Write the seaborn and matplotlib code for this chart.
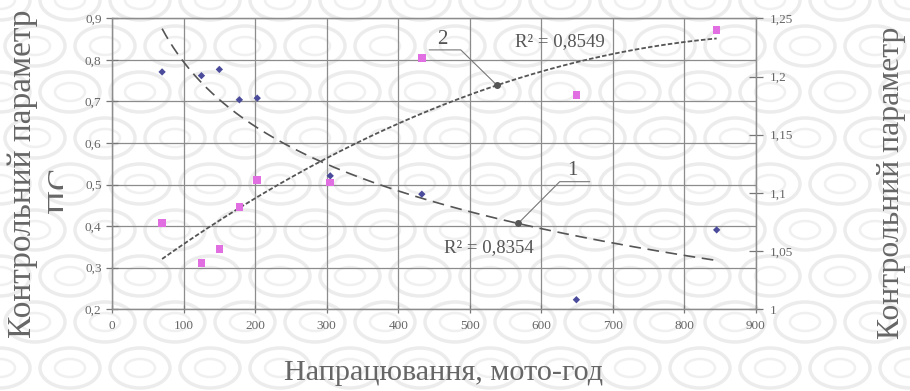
import numpy as np
import pandas as pd
import matplotlib
matplotlib.use("Agg")
import matplotlib.pyplot as plt
from matplotlib.patches import Ellipse
from matplotlib.transforms import Bbox, TransformedBbox
from matplotlib.ticker import FuncFormatter, MultipleLocator
import seaborn as sns

# Operating hours and the two control parameters
hours = [70, 125, 150, 178, 203, 305, 433, 649, 845]
param_1 = [0.771, 0.762, 0.777, 0.704, 0.708, 0.521, 0.477, 0.223, 0.391]
param_2 = [1.074, 1.040, 1.052, 1.088, 1.111, 1.109, 1.216, 1.184, 1.240]
r2_labels = ["R² = 0,8354", "R² = 0,8549"]
curve_labels = ["1", "2"]
x_label = "Напрацювання, мото-год"
y_label = "Контрольний параметр"
y_label_extra = "ПС"

sns.set_theme(style="white")
plt.rcParams["font.family"] = ["Liberation Serif", "DejaVu Serif"]

TEXT = "#666666"
LINE = "#555555"

fig = plt.figure(figsize=(9.1, 3.91), dpi=100)
fig.patch.set_facecolor("white")

# decorative lattice backdrop
bg = fig.add_axes([0, 0, 1, 1], zorder=-10)
bg.set_xlim(0, 910)
bg.set_ylim(391, 0)
bg.axis("off")
for row in range(-1, 11):
    for col in range(-1, 15):
        cx = col * 70 + (35 if row % 2 else 0)
        cy = row * 46
        bg.add_patch(Ellipse((cx, cy), 60, 40, fill=False, ec="#ececec", lw=2.5))
        bg.add_patch(Ellipse((cx, cy), 30, 18, fill=False, ec="#f0f0f0", lw=1.8))

df = pd.DataFrame({"hours": hours, "p1": param_1, "p2": param_2})

ax = fig.add_axes([112 / 910, 1 - 309.3 / 391, 644 / 910, 291 / 391])
ax.set_facecolor("none")
ax2 = ax.twinx()
ax2.set_facecolor("none")

# trend lines: logarithmic for parameter 1, quadratic for parameter 2
b1, a1 = np.polyfit(np.log(hours), param_1, 1)
coef2 = np.polyfit(hours, param_2, 2)
xs = np.linspace(min(hours), max(hours), 300)
fit1 = a1 + b1 * np.log(xs)
fit2 = np.polyval(coef2, xs)

sns.lineplot(x=xs, y=fit1, ax=ax, color=LINE, lw=1.2, linestyle=(0, (7, 4)))
sns.lineplot(x=xs, y=fit2, ax=ax2, color=LINE, lw=1.3, linestyle=(0, (2.5, 1.2)))

sns.scatterplot(data=df, x="hours", y="p1", ax=ax, marker="D", s=14,
                color="#4b4b9b", edgecolor="none", zorder=5)
sns.scatterplot(data=df, x="hours", y="p2", ax=ax2, marker="s", s=30,
                color="#e26fe2", edgecolor="none", zorder=5)

ax.set_xlim(0, 900)
ax.set_ylim(0.2, 0.9)
ax2.set_ylim(1.0, 1.25)
ax.xaxis.set_major_locator(MultipleLocator(100))
ax.yaxis.set_major_locator(MultipleLocator(0.1))
ax2.yaxis.set_major_locator(MultipleLocator(0.05))
ax.yaxis.set_major_formatter(FuncFormatter(lambda v, _: f"{v:.1f}".replace(".", ",")))
ax2.yaxis.set_major_formatter(FuncFormatter(lambda v, _: f"{round(v, 2):g}".replace(".", ",")))
ax.xaxis.set_major_formatter(FuncFormatter(lambda v, _: f"{v:.0f}"))

ax.grid(True, color="#8c8c8c", lw=0.9)
ax2.grid(False)
for a in (ax, ax2):
    for s in a.spines.values():
        s.set_color("#8c8c8c")
        s.set_linewidth(0.9)
    a.set_xlabel("")
    a.set_ylabel("")

ax.tick_params(axis="y", left=True, direction="inout", length=9, width=0.9,
               color="#777777", labelsize=9.5, labelcolor=TEXT, pad=3)
ax.tick_params(axis="x", bottom=True, direction="inout", length=6, width=0.9,
               color="#777777", labelsize=9.5, labelcolor=TEXT, pad=5)
ax2.tick_params(axis="y", right=True, direction="inout", length=10, width=0.9,
                color="#777777", labelsize=9.5, labelcolor=TEXT, pad=5)

# R² values
ax.text(625.7, 0.843, r2_labels[1], ha="center", va="center", fontsize=13.5, color=LINE)
ax.text(526.5, 0.348, r2_labels[0], ha="center", va="center", fontsize=13.5, color=LINE)

# callout 1 on the logarithmic trend
px1 = 567.5
py1 = a1 + b1 * np.log(px1)
ax.plot([px1, 625.7, 667.6], [py1, 0.507, 0.507], color="#777777", lw=0.8)
ax.plot([px1], [py1], "o", ms=4, color=LINE)
ax.text(644, 0.535, curve_labels[0], ha="center", va="center", fontsize=15, color=LINE)

# callout 2 on the quadratic trend
px2 = 538.0
py2 = 0.2 + (np.polyval(coef2, px2) - 1.0) * 0.7 / 0.25
ax.plot([443.2, 487.4, px2], [0.824, 0.824, py2], color="#777777", lw=0.8)
ax.plot([px2], [py2], "o", ms=4, color=LINE)
ax.text(461.9, 0.848, curve_labels[1], ha="center", va="center", fontsize=15, color=LINE)

# axis titles
fig.text(444 / 910, 1 - 373 / 391, x_label, ha="center", va="center", fontsize=21.7, color=TEXT)
fig.text(22.7 / 910, 1 - 173.5 / 391, y_label, rotation=90, ha="center", va="center",
         fontsize=24, color=TEXT)
extra = fig.text(62 / 910, 1 - 190 / 391, y_label_extra, rotation=90, ha="center",
                 va="center", fontsize=24, color=TEXT)
extra.set_clip_on(True)
extra.set_clip_box(TransformedBbox(Bbox([[0, 0], [63 / 910, 1]]), fig.transFigure))
fig.text(892 / 910, 1 - 182.5 / 391, y_label, rotation=90, ha="center", va="center",
         fontsize=22.8, color=TEXT)

fig.savefig("out.png", dpi=100)
